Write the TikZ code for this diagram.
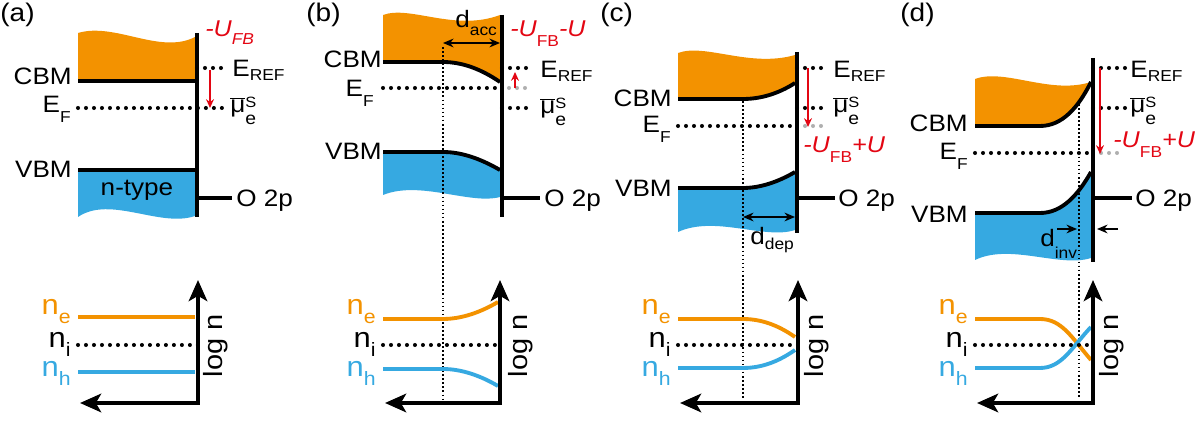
\documentclass[tikz,border=0pt]{standalone}
\usepackage{fontspec}
\setmainfont{Liberation Sans}[FakeStretch=1.1]
\usetikzlibrary{arrows.meta}
\definecolor{cband}{RGB}{243,146,0}
\definecolor{vband}{RGB}{54,169,225}
\definecolor{ured}{RGB}{227,6,19}
\definecolor{ghost}{RGB}{175,175,175}
\newcommand\lo[2][5pt]{\raisebox{-#1}{\fontsize{9}{10}\selectfont #2}}
\newcommand\nlo[1]{\raisebox{-5pt}{\fontsize{11}{12}\selectfont #1}}
\newcommand\mus{$\overline{\hbox{μ}}$\rlap{\raisebox{3pt}{\fontsize{8.5}{9}\selectfont S}}\raisebox{-6.5pt}{\fontsize{10}{11}\selectfont e}}
\tikzset{
  every node/.style={inner sep=0pt, font=\fontsize{13.5}{15}\selectfont},
  >={Stealth[length=6pt,width=5pt]},
  band/.style={line width=2.2pt},
  surf/.style={line width=2.4pt},
  level/.style={line width=2.3pt, line cap=round, dash pattern=on 0pt off 4.55pt},
  guide/.style={line width=0.8pt, dash pattern=on 1pt off 1.3pt},
  axis/.style={line width=2.3pt, {Stealth[length=12pt,width=10.5pt,inset=3pt]}-{Stealth[length=12pt,width=10.5pt,inset=3pt]}},
  ushift/.style={ured, line width=1pt, -{Stealth[length=5pt,width=4.5pt]}},
  dlen/.style={line width=0.9pt},
  lft/.style={anchor=base east},
  rgt/.style={anchor=base west},
  ulab/.style={ured, font=\fontsize{13}{15}\selectfont\itshape, anchor=base west},
  nlab/.style={font=\fontsize{16}{18}\selectfont, anchor=base east},
  tag/.style={font=\fontsize{14.5}{16}\selectfont, anchor=base west},
}
\begin{document}
\begin{tikzpicture}[x=0.02cm, y=-0.02cm]
\useasboundingbox (0,0) rectangle (1200,421);

% (a) flat band
\fill[cband] (78,81) -- (78,33) .. controls (115,22) and (160,55) .. (195,37) -- (195,81) -- cycle;
\fill[vband] (78,170) -- (195,170) -- (195,216) .. controls (160,228) and (110,195) .. (78,217) -- cycle;
\draw[band] (78,81) -- (195,81);
\draw[band] (78,170) -- (195,170);
\draw[level] (78,108) -- (224,108);
\draw[level] (197,68) -- (224,68);
\draw[surf] (197,33) -- (197,217);
\draw[band] (197,198) -- (232,198);
\draw[ushift] (210,70) -- (210,108);
\node[tag] (a-tag) at (0,22) {(a)};
\node[lft] (a-cbm) at (72,85) {CBM};
\node[lft] (a-ef) at (71,113) {E\lo[5.5pt]{F}};
\node[lft] (a-vbm) at (72,178) {VBM};
\node[anchor=base] (a-type) at (137,196) {n-type};
\node[rgt] (a-eref) at (232,77) {E\lo[2pt]{REF}};
\node[rgt] (a-mu) at (230,113) {\mus};
\node[rgt] (a-o2p) at (236,207) {O 2p};
\node[ulab] (a-u) at (205,37) {-U\lo[4.5pt]{FB}};

% (b) accumulation
\fill[cband] (383,62) -- (383,15) .. controls (410,5) and (455,32) .. (500,15) -- (500,82) .. controls (481,69) and (462,62) .. (443,62) -- cycle;
\fill[vband] (383,152) -- (443,152) .. controls (462,152) and (481,159) .. (500,170) -- (500,197) .. controls (470,205) and (420,180) .. (383,195) -- cycle;
\draw[band] (383,62) -- (443,62) .. controls (462,62) and (481,69) .. (500,82);
\draw[band] (383,152) -- (443,152) .. controls (462,152) and (481,159) .. (500,170);
\draw[guide] (443,47) -- (443,400);
\draw[dlen,<->] (443,43) -- (500,43);
\draw[level] (383,88) -- (500,88);
\draw[level,ghost] (509,88) -- (525,88);
\draw[level] (502,68) -- (530,68);
\draw[level] (502,108) -- (530,108);
\draw[surf] (502,15) -- (502,217);
\draw[band] (502,198) -- (540,198);
\draw[ushift] (515,88) -- (515,72);
\node[tag] (b-tag) at (306,22) {(b)};
\node[lft] (b-cbm) at (382,68) {CBM};
\node[lft] (b-ef) at (374,97) {E\lo[5.5pt]{F}};
\node[lft] (b-vbm) at (382,160) {VBM};
\node[rgt] (b-eref) at (540,78) {E\lo[2pt]{REF}};
\node[rgt] (b-mu) at (540,114) {\mus};
\node[rgt] (b-o2p) at (544,207) {O 2p};
\node[ulab] (b-u) at (510,37) {-U\lo[5.5pt]{\upshape FB}-U};
\node[rgt] (b-d) at (455,28) {d\lo[4pt]{acc}};

% (c) depletion
\fill[cband] (678,99) -- (678,53) .. controls (705,43) and (750,68) .. (795,55) -- (795,83) .. controls (778,94) and (760,99) .. (743,99) -- cycle;
\fill[vband] (678,188) -- (743,188) .. controls (760,188) and (778,182) .. (795,172) -- (795,230) .. controls (765,240) and (715,215) .. (678,232) -- cycle;
\draw[band] (678,99) -- (743,99) .. controls (760,99) and (778,94) .. (795,83);
\draw[band] (678,188) -- (743,188) .. controls (760,188) and (778,182) .. (795,172);
\draw[guide] (743,101) -- (743,400);
\draw[dlen,<->] (743,217) -- (795,217);
\draw[level] (678,126) -- (795,126);
\draw[level,ghost] (805,126) -- (821,126);
\draw[level] (797,68) -- (828,68);
\draw[level] (797,108) -- (828,108);
\draw[surf] (797,52) -- (797,233);
\draw[band] (797,198) -- (835,198);
\draw[ushift] (808,68) -- (808,127);
\node[tag] (c-tag) at (600,22) {(c)};
\node[lft] (c-cbm) at (672,107) {CBM};
\node[lft] (c-ef) at (671,133) {E\lo[5.5pt]{F}};
\node[lft] (c-vbm) at (672,197) {VBM};
\node[rgt] (c-eref) at (833,78) {E\lo[2pt]{REF}};
\node[rgt] (c-mu) at (833,113) {\mus};
\node[rgt] (c-o2p) at (838,207) {O 2p};
\node[ulab] (c-u) at (803,153) {-U\lo[5.5pt]{\upshape FB}+U};
\node[rgt] (c-d) at (750,245) {d\lo[2.5pt]{dep}};

% (d) inversion
\fill[cband] (975,126) -- (975,79) .. controls (1005,68) and (1050,95) .. (1091,82) .. controls (1078,108) and (1062,126) .. (1040,126) -- cycle;
\fill[vband] (975,213) -- (1040,213) .. controls (1062,213) and (1078,195) .. (1091,172) -- (1091,258) .. controls (1060,268) and (1010,243) .. (975,260) -- cycle;
\draw[band] (975,126) -- (1040,126) .. controls (1062,126) and (1078,108) .. (1091,82);
\draw[band] (975,213) -- (1040,213) .. controls (1062,213) and (1078,195) .. (1091,172);
\draw[guide] (1079,100) -- (1079,398);
\draw[dlen,->] (1057,229) -- (1077,229);
\draw[dlen,->] (1118,229) -- (1097,229);
\draw[level] (975,153) -- (1091,153);
\draw[level,ghost] (1101,153) -- (1117,153);
\draw[level] (1093,68) -- (1125,68);
\draw[level] (1093,108) -- (1125,108);
\draw[surf] (1093,58) -- (1093,262);
\draw[band] (1093,198) -- (1132,198);
\draw[ushift] (1100,68) -- (1100,154);
\node[tag] (d-tag) at (900,22) {(d)};
\node[lft] (d-cbm) at (968,132) {CBM};
\node[lft] (d-ef) at (968,160) {E\lo[5.5pt]{F}};
\node[lft] (d-vbm) at (968,223) {VBM};
\node[rgt] (d-eref) at (1130,78) {E\lo[2pt]{REF}};
\node[rgt] (d-mu) at (1130,113) {\mus};
\node[rgt] (d-o2p) at (1135,207) {O 2p};
\node[ulab] (d-u) at (1113,148) {-U\lo[5.5pt]{\upshape FB}+U};
\node[rgt] (d-d) at (1040,247) {d\lo[6.5pt]{inv}};

% carrier densities
\draw[band,cband] (78,317) -- (195,317);
\draw[band,vband] (78,372) -- (195,372);
\draw[band,cband] (383,319) -- (443,319) .. controls (462,319) and (481,312) .. (498,302);
\draw[band,vband] (383,369) -- (443,369) .. controls (462,369) and (481,376) .. (498,386);
\draw[band,cband] (678,319) -- (743,319) .. controls (765,319) and (782,328) .. (795,337);
\draw[band,vband] (678,368) -- (743,368) .. controls (765,368) and (782,359) .. (795,350);
\draw[band,cband] (975,319) -- (1040,319) .. controls (1062,319) and (1072,338) .. (1091,360);
\draw[band,vband] (975,368) -- (1040,368) .. controls (1062,368) and (1072,347) .. (1091,327);
\foreach \p/\l/\r/\t in {a/78/198/71, b/383/500/376, c/678/798/671, d/975/1093/968} {
  \draw[level] (\l,345) -- (\r,345);
  \node[nlab, cband] (\p-ne) at (\t,315) {n\nlo{e}};
  \node[nlab] (\p-ni) at (\t,348) {n\nlo{i}};
  \node[nlab, vband] (\p-nh) at (\t,377) {n\nlo{h}};
}
\foreach \p/\x/\e/\k in {a/198/80/216, b/500/385/521, c/798/680/817, d/1093/977/1112} {
  \draw[axis] (\x,280) -- (\x,403) -- (\e,403);
  \node[rotate=90, font=\fontsize{15}{17}\selectfont] (\p-log) at (\k,346) {log n};
}
\end{tikzpicture}
\end{document}
